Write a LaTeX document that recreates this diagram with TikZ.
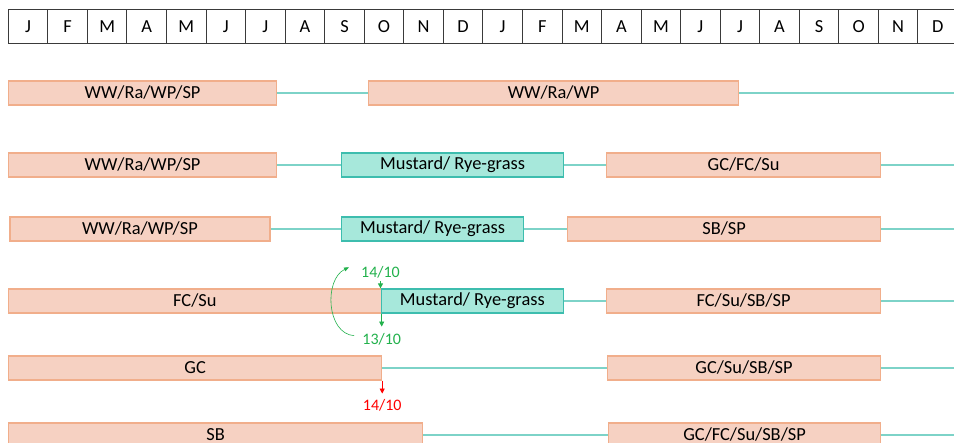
\documentclass[tikz,border=0pt]{standalone}
\usepackage{fontspec}
\setmainfont{Carlito}
\usetikzlibrary{arrows.meta, positioning}
\definecolor{cropfill}{HTML}{F6D1C2}
\definecolor{cropedge}{HTML}{F1AE8B}
\definecolor{coverfill}{HTML}{A7E8DB}
\definecolor{coveredge}{HTML}{3DBDAE}
\definecolor{fallow}{HTML}{7DD3C8}
\definecolor{sowgreen}{HTML}{22B14C}
\definecolor{grid}{HTML}{3A3A3A}

\begin{document}
\begin{tikzpicture}[x=1pt, y=-1pt,
    month/.style={draw=grid, line width=1pt, minimum width=39.55pt, minimum height=34pt,
      inner sep=0pt, font=\fontsize{18.4}{20}\selectfont},
    crop/.style={draw=cropedge, fill=cropfill, line width=1.2pt, minimum height=24pt,
      inner sep=0pt, anchor=west, font=\fontsize{18.4}{20}\selectfont},
    cover/.style={crop, draw=coveredge, fill=coverfill},
    gap/.style={fallow, line width=1.4pt},
    datelab/.style={font=\fontsize{16}{18}\selectfont, inner sep=1pt},
    marker/.style={line width=0.8pt, -{Triangle[length=5pt, width=5pt]}}
  ]
  \useasboundingbox (0,0) rectangle (954,443);
  % months, two years
  \foreach \m [count=\i from 0] in {J,F,M,A,M,J,J,A,S,O,N,D,J,F,M,A,M,J,J,A,S,O,N,D}
    \node[month] (m\i) at ({8.3+(\i+0.5)*39.55}, 26.3) {\m};
  % row 1
  \node[crop, minimum width=268pt] (r1a) at (8,93) {WW/Ra/WP/SP};
  \node[crop, minimum width=370pt] (r1b) at (368,93) {WW/Ra/WP};
  \coordinate (r1end) at (954,93);
  \draw[gap] (r1a) -- (r1b) (r1b) -- (r1end);
  % row 2
  \node[crop, minimum width=268pt] (r2a) at (8,165) {WW/Ra/WP/SP};
  \node[cover, minimum width=222pt] (r2b) at (341,165) {Mustard/ Rye-grass};
  \node[crop, minimum width=274pt] (r2c) at (606,165) {GC/FC/Su};
  \coordinate (r2end) at (954,165);
  \draw[gap] (r2a) -- (r2b) (r2b) -- (r2c) (r2c) -- (r2end);
  % row 3
  \node[crop, minimum width=260pt] (r3a) at (9.3,229) {WW/Ra/WP/SP};
  \node[cover, minimum width=182pt] (r3b) at (341,229) {Mustard/ Rye-grass};
  \node[crop, minimum width=313pt] (r3c) at (567,229) {SB/SP};
  \coordinate (r3end) at (954,229);
  \draw[gap] (r3a) -- (r3b) (r3b) -- (r3c) (r3c) -- (r3end);
  % row 4
  \node[crop, minimum width=372.5pt] (r4a) at (8,301) {FC/Su};
  \node[cover, minimum width=182.5pt] (r4b) at (380.5,301) {Mustard/ Rye-grass};
  \node[crop, minimum width=274pt] (r4c) at (606,301) {FC/Su/SB/SP};
  \coordinate (r4end) at (954,301);
  \draw[gap] (r4b) -- (r4c) (r4c) -- (r4end);
  % row 5
  \node[crop, minimum width=373pt] (r5a) at (8,368) {GC};
  \node[crop, minimum width=273pt] (r5b) at (607,368) {GC/Su/SB/SP};
  \coordinate (r5end) at (954,368);
  \draw[gap] (r5a) -- (r5b) (r5b) -- (r5end);
  % row 6
  \node[crop, minimum width=414pt] (r6a) at (8,435) {SB};
  \node[crop, minimum width=272pt] (r6b) at (608,435) {GC/FC/Su/SB/SP};
  \coordinate (r6end) at (954,435);
  \draw[gap] (r6a) -- (r6b) (r6b) -- (r6end);
  % sowing dates
  \node[datelab, sowgreen, above=9pt of r4b.north west] (sow1) {14/10};
  \draw[marker, sowgreen] ([yshift=-2pt]sow1.south -| r4b.north west) -- (r4b.north west);
  \node[datelab, sowgreen, below=19pt of r4a.south east] (sow2) {13/10};
  \draw[marker, sowgreen] (r4a.south east) -- ([yshift=6pt]sow2.north -| r4a.south east);
  \draw[sowgreen, line width=0.6pt, -{Triangle[length=5pt, width=4pt]}]
    ([shift={(-7,-4)}]sow2.west) .. controls +(-28,-2) and +(-25,12) .. ([shift={(-11,-5)}]sow1.west);
  % harvest date
  \node[datelab, red, below=18pt of r5a.south east] (cut1) {14/10};
  \draw[marker, red] (r5a.south east) -- ([yshift=5pt]cut1.north -| r5a.south east);
\end{tikzpicture}
\end{document}
